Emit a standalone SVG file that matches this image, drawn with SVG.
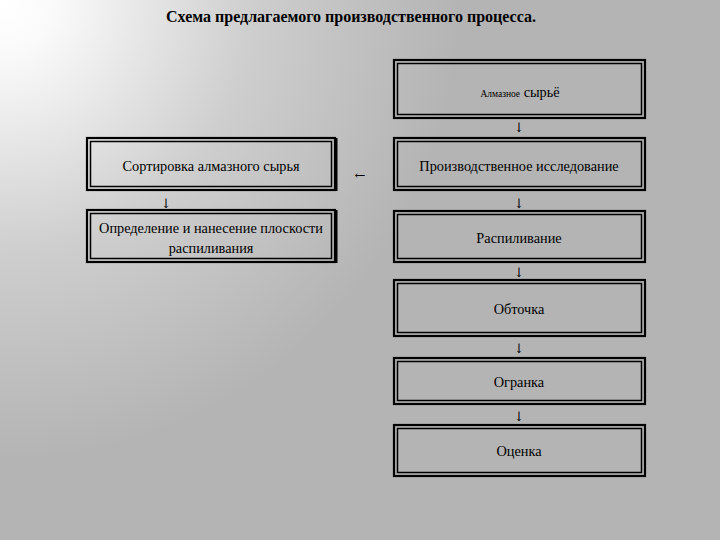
<svg xmlns="http://www.w3.org/2000/svg" width="720" height="540" viewBox="0 0 720 540">
  <defs>
    <radialGradient id="bg" gradientUnits="userSpaceOnUse" cx="0" cy="0" r="460">
      <stop offset="0" stop-color="#ffffff"/>
      <stop offset="0.12" stop-color="#fafafa"/>
      <stop offset="0.55" stop-color="#cecece"/>
      <stop offset="1" stop-color="#b4b4b4"/>
    </radialGradient>
  </defs>
  <style>
    .outer { fill: none; stroke: #000; stroke-width: 2.2; }
    .inner { fill: none; stroke: #000; stroke-width: 1.5; }
    .shadow { fill: #000; }
    .lbl { font-family: "Liberation Serif", "DejaVu Serif", serif; font-size: 14.3px; fill: #000; text-anchor: middle; }
    .small { font-size: 9.5px; }
    .title { font-family: "Liberation Serif", "DejaVu Serif", serif; font-size: 16px; font-weight: bold; fill: #000; text-anchor: middle; }
    .arr { font-family: "DejaVu Serif", "Liberation Serif", serif; font-size: 13px; fill: #000; text-anchor: middle; }
  </style>
  <rect x="0" y="0" width="720" height="540" fill="url(#bg)"/>
  <text class="title" x="351" y="22">Схема предлагаемого производственного процесса.</text>

  <g id="node-raw">
    <rect class="outer" x="394" y="60" width="251" height="58"/>
    <rect class="inner" x="397.5" y="63.5" width="244" height="51"/>
    <text class="lbl" x="520" y="97"><tspan class="small">Алмазное</tspan> сырьё</text>
  </g>
  <g id="node-research">
    <rect class="outer" x="394" y="138" width="251" height="52"/>
    <rect class="inner" x="397.5" y="141.5" width="244" height="45"/>
    <text class="lbl" x="519" y="171">Производственное исследование</text>
  </g>
  <g id="node-sawing">
    <rect class="outer" x="394" y="211" width="251" height="51"/>
    <rect class="inner" x="397.5" y="214.5" width="244" height="44"/>
    <text class="lbl" x="519" y="243">Распиливание</text>
  </g>
  <g id="node-turning">
    <rect class="outer" x="394" y="280" width="251" height="56"/>
    <rect class="inner" x="397.5" y="283.5" width="244" height="49"/>
    <text class="lbl" x="519" y="314">Обточка</text>
  </g>
  <g id="node-cutting">
    <rect class="outer" x="394" y="358" width="251" height="46"/>
    <rect class="inner" x="397.5" y="361.5" width="244" height="39"/>
    <text class="lbl" x="519" y="387">Огранка</text>
  </g>
  <g id="node-grading">
    <rect class="outer" x="394" y="425" width="251" height="51"/>
    <rect class="inner" x="397.5" y="428.5" width="244" height="44"/>
    <text class="lbl" x="519" y="456">Оценка</text>
  </g>
  <g id="node-sorting">
    <rect class="outer" x="87" y="138" width="248" height="52"/>
    <rect class="inner" x="90.5" y="141.5" width="241" height="45"/>
    <rect class="shadow" x="334" y="138" width="3.5" height="53"/>
    <text class="lbl" x="211" y="171">Сортировка алмазного сырья</text>
  </g>
  <g id="node-plane">
    <rect class="outer" x="87" y="210" width="248" height="52"/>
    <rect class="inner" x="90.5" y="213.5" width="241" height="45"/>
    <rect class="shadow" x="334" y="210" width="3.5" height="53"/>
    <text class="lbl" x="211" y="233">Определение и нанесение плоскости</text>
    <text class="lbl" x="211" y="253">распиливания</text>
  </g>

  <g id="connectors">
    <text class="arr" x="519" y="132">↓</text>
    <text class="arr" x="519" y="208">↓</text>
    <text class="arr" x="519" y="277">↓</text>
    <text class="arr" x="519" y="353">↓</text>
    <text class="arr" x="519" y="421">↓</text>
    <text class="arr" x="360" y="180">←</text>
    <text class="arr" x="166" y="208">↓</text>
  </g>
</svg>
